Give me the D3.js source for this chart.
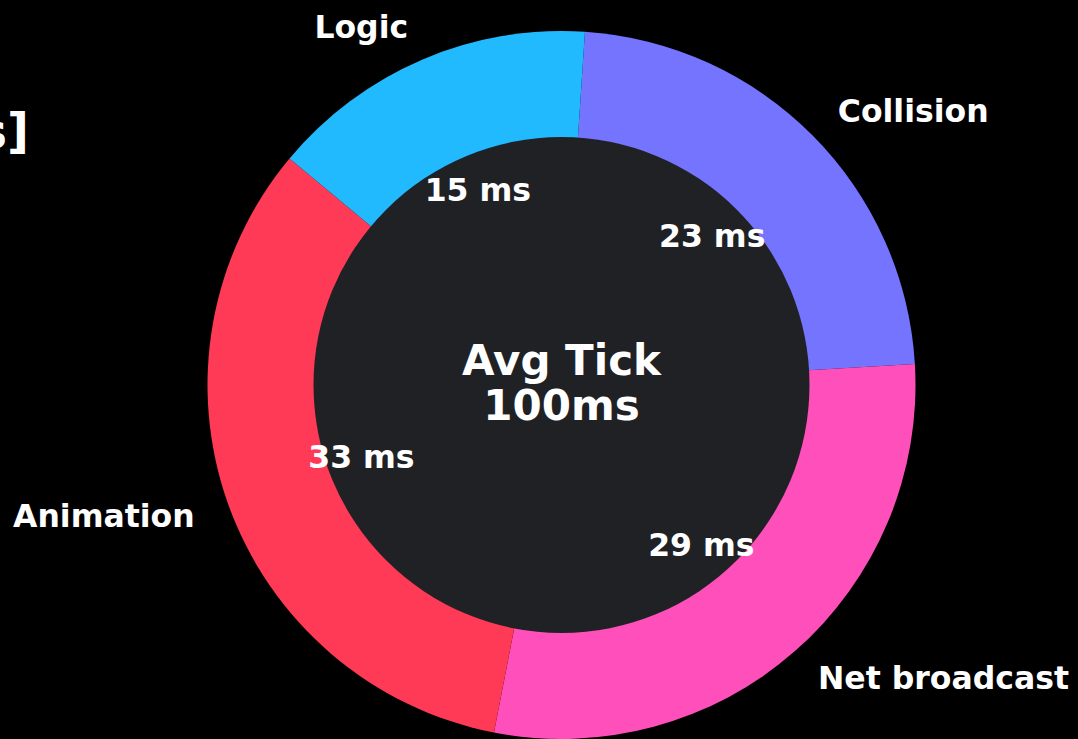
<!DOCTYPE html>
<html>
<head>
<meta charset="utf-8">
<script src="https://cdn.jsdelivr.net/npm/d3@7"></script>
<style>
  html, body { margin: 0; padding: 0; background: #000; }
  svg { display: block; }
  text { font-family: "DejaVu Sans", sans-serif; font-weight: bold; fill: #fff; }
</style>
</head>
<body>
<div id="chart"></div>
<script>
// chart values
var categories = ['Collision', 'Net broadcast', 'Animation', 'Logic'];
var times = [23, 29, 33, 15];
var colors = ['#7474ff', '#ff4fbb', '#ff3a56', '#22baff'];
var centerLines = ['Avg Tick', '100ms'];
var titleText = '[ms]';

var frame = { width: 1078, height: 739 },
  cx = 561.5,
  cy = 385,
  outerR = 354,
  innerR = 248;

var svg = d3.select('#chart').append('svg')
  .attr('width', frame.width)
  .attr('height', frame.height);

svg.append('rect')
  .attr('width', frame.width)
  .attr('height', frame.height)
  .attr('fill', '#000');

// title, mostly cut off at the left edge
svg.append('text')
  .attr('x', 29)
  .attr('y', 148)
  .style('text-anchor', 'end')
  .style('font-size', '48px')
  .text(titleText);

var startAngle = 3.8 * Math.PI / 180;

var pie = d3.pie()
  .sort(null)
  .value(function (d) { return d; })
  .startAngle(startAngle)
  .endAngle(startAngle + 2 * Math.PI);

var arcs = pie(times);

var arc = d3.arc()
  .innerRadius(0)
  .outerRadius(outerR);

var g = svg.append('g')
  .attr('transform', 'translate(' + cx + ',' + cy + ')');

g.selectAll('path.slice')
  .data(arcs)
  .enter().append('path')
  .attr('class', 'slice')
  .attr('d', arc)
  .attr('fill', function (d, i) { return colors[i]; });

// hole
g.append('circle')
  .attr('r', innerR)
  .attr('fill', '#202125');

function mid(d) { return (d.startAngle + d.endAngle) / 2; }

//outside labels
g.selectAll('text.label')
  .data(arcs)
  .enter().append('text')
  .attr('class', 'label')
  .attr('x', function (d) { return Math.sin(mid(d)) * outerR * 1.1; })
  .attr('y', function (d) { return -Math.cos(mid(d)) * outerR * 1.1; })
  .attr('dy', '0.36em')
  .style('font-size', '31.5px')
  .style('text-anchor', function (d) { return Math.sin(mid(d)) < 0 ? 'end' : 'start'; })
  .text(function (d, i) { return categories[i]; });

//value labels
g.selectAll('text.value')
  .data(arcs)
  .enter().append('text')
  .attr('class', 'value')
  .attr('x', function (d) { return Math.sin(mid(d)) * outerR * 0.6; })
  .attr('y', function (d) { return -Math.cos(mid(d)) * outerR * 0.6; })
  .attr('dy', '0.36em')
  .style('font-size', '31.5px')
  .style('text-anchor', 'middle')
  .text(function (d) { return d.data + ' ms'; });

//center text
g.selectAll('text.center')
  .data(centerLines)
  .enter().append('text')
  .attr('class', 'center')
  .attr('x', 0)
  .attr('y', function (d, i) { return -10 + i * 45; })
  .style('font-size', '42px')
  .style('text-anchor', 'middle')
  .text(function (d) { return d; });
</script>
</body>
</html>
